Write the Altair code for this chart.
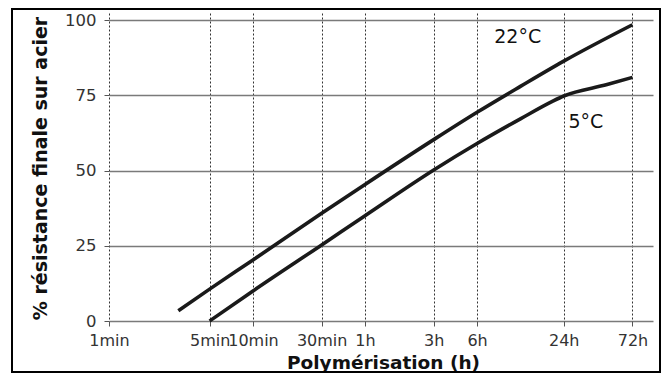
import altair as alt
import pandas as pd

# --- data ---
tick_minutes = [1, 5, 10, 30, 60, 180, 360, 1440, 4320]
tick_labels = ["1min", "5min", "10min", "30min", "1h", "3h", "6h", "24h", "72h"]
y_ticks = [0, 25, 50, 75, 100]

hours_22 = [0.0505, 0.0833, 0.1667, 0.5, 1, 3, 6, 12, 24, 72]
res_22 = [3.4, 10.6, 20.3, 35.8, 45.4, 60.3, 69.4, 78.0, 86.4, 98.5]
hours_5 = [0.0833, 0.1667, 0.5, 1, 3, 6, 12, 20, 24, 48, 72]
res_5 = [0.0, 10.0, 25.3, 35.0, 50.2, 59.0, 67.2, 73.0, 74.8, 78.6, 81.0]

label_text = ["22°C", "5°C"]
label_hours = [11.5, 34.2]
label_res = [94.4, 66.0]

lines = pd.DataFrame({
    "h": hours_22 + hours_5,
    "r": res_22 + res_5,
    "s": ["22°C"] * len(hours_22) + ["5°C"] * len(hours_5),
})
labels = pd.DataFrame({"h": label_hours, "r": label_res, "t": label_text})

tick_hours = [m / 60 for m in tick_minutes]
label_expr = "{}[indexof({}, round(datum.value*60))]".format(
    "[" + ",".join("'%s'" % t for t in tick_labels) + "]",
    "[" + ",".join(str(m) for m in tick_minutes) + "]",
)

FONT = "DejaVu Sans"

x_enc = alt.X(
    "h:Q",
    scale=alt.Scale(type="log", domain=[1 / 60, 100], nice=False),
    axis=alt.Axis(
        values=tick_hours,
        labelExpr=label_expr,
        title="Polymérisation (h)",
        titleFont=FONT, titleFontSize=18.5, titleFontWeight="bold", titleColor="#111",
        titleX=274, titleY=47, titleBaseline="alphabetic", titleAlign="center",
        labelFont=FONT, labelFontSize=16, labelColor="#333",
        labelOverlap=False, labelBound=False, labelFlush=False,
        labelPadding=6, tickSize=5, tickColor="#555",
        domain=False,
        grid=True, gridColor="#333", gridDash=[2, 2], gridWidth=1,
    ),
)
y_enc = alt.Y(
    "r:Q",
    scale=alt.Scale(domain=[0, 102.4], nice=False),
    axis=alt.Axis(
        values=y_ticks,
        title="% résistance finale sur acier",
        titleFont=FONT, titleFontSize=19, titleFontWeight="bold", titleColor="#111",
        titleAngle=-90, titleX=-63, titleY=155, titleBaseline="alphabetic", titleAlign="center",
        labelFont=FONT, labelFontSize=16.5, labelColor="#333",
        labelPadding=8, tickSize=5, tickColor="#555",
        domain=False,
        grid=True, gridColor="#7a7a7a", gridWidth=1.3,
    ),
)

line_layer = alt.Chart(lines).mark_line(
    color="#1a1a1a", strokeWidth=3.6, interpolate="monotone"
).encode(x=x_enc, y=y_enc, detail="s:N")

text_layer = alt.Chart(labels).mark_text(
    font=FONT, fontSize=19, color="#111", align="center", baseline="middle"
).encode(x=x_enc, y=y_enc, text="t:N")

frame = alt.Chart(pd.DataFrame({"a": [0]})).mark_rect(
    fillOpacity=0, stroke="#000", strokeWidth=2
).encode(
    x=alt.value(-97), x2=alt.value(551), y=alt.value(-4), y2=alt.value(359)
)

chart = alt.layer(line_layer, text_layer, frame).properties(
    width=544, height=308,
    autosize=alt.AutoSizeParams(type="none"),
    padding={"left": 101, "top": 5, "right": 9, "bottom": 52},
).configure_view(stroke=None)

chart.save("out.html", embed_options={"renderer": "svg", "actions": False})
